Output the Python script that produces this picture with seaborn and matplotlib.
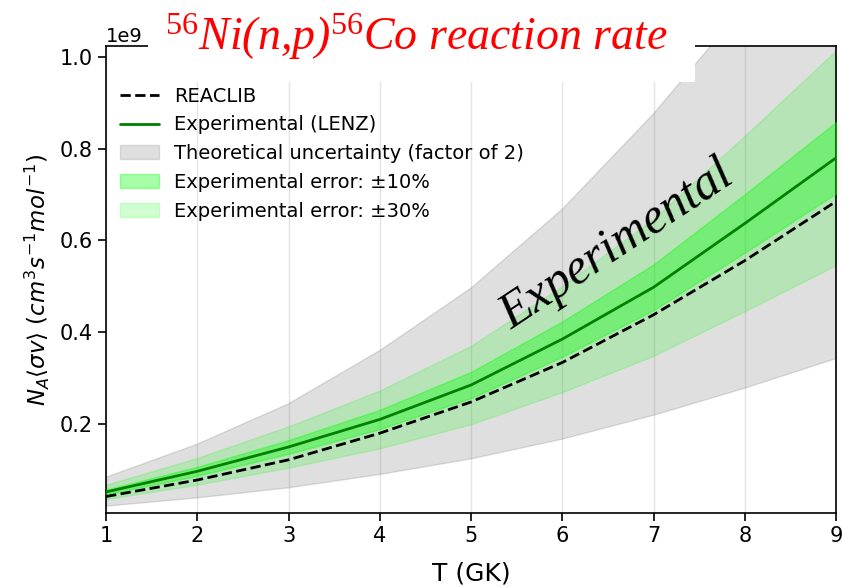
import numpy as np
import pandas as pd
import matplotlib
matplotlib.use("Agg")
import matplotlib.pyplot as plt
from matplotlib.patches import Rectangle
import seaborn as sns

T = [1, 2, 3, 4, 5, 6, 7, 8, 9]
reaclib = [0.042e9, 0.078e9, 0.122e9, 0.180e9, 0.248e9, 0.334e9, 0.438e9, 0.556e9, 0.685e9]
lenz = [0.052e9, 0.097e9, 0.150e9, 0.210e9, 0.285e9, 0.385e9, 0.498e9, 0.637e9, 0.780e9]
theory_factor = 2.0
err_small = 0.10
err_large = 0.30

sns.set_style("ticks", {"axes.edgecolor": "black", "xtick.color": "black",
                        "ytick.color": "black", "text.color": "black",
                        "axes.labelcolor": "black"})
plt.rcParams['font.family'] = ['DejaVu Sans']

df = pd.DataFrame({"T": T, "REACLIB": reaclib, "LENZ": lenz})
r = np.array(reaclib)
l = np.array(lenz)

fig = plt.figure(figsize=(8.42, 5.87), dpi=100)
ax = fig.add_axes([0.126, 0.126, 0.867, 0.796])

ax.fill_between(T, r / theory_factor, r * theory_factor, color="gray", alpha=0.25,
                label="Theoretical uncertainty (factor of 2)", zorder=1)
ax.fill_between(T, l * (1 - err_large), l * (1 + err_large), color="lime", alpha=0.18,
                label="Experimental error: \u00b130%", zorder=2)
ax.fill_between(T, l * (1 - err_small), l * (1 + err_small), color="lime", alpha=0.35,
                label="Experimental error: \u00b110%", zorder=3)
sns.lineplot(data=df, x="T", y="REACLIB", ax=ax, color="black", linestyle="--",
             linewidth=2, label="REACLIB", zorder=5)
sns.lineplot(data=df, x="T", y="LENZ", ax=ax, color="green", linewidth=2,
             label="Experimental (LENZ)", zorder=4)

ax.set_xlim(1, 9)
ax.set_ylim(0.006e9, 1.024e9)
ax.set_xticks(T)
ax.set_yticks([0.2e9, 0.4e9, 0.6e9, 0.8e9, 1.0e9])
ax.xaxis.grid(True, color="#e4e4e4", linewidth=1)
ax.set_axisbelow(True)
ax.tick_params(axis="y", labelsize=15, length=6, width=1.2)
ax.tick_params(axis="x", labelsize=15, length=6, width=1.2)
for s in ax.spines.values():
    s.set_linewidth(1.2)
    s.set_color("black")
ax.yaxis.get_offset_text().set_fontsize(14)
ax.set_xlabel("T (GK)", fontsize=18, labelpad=11)
ax.set_ylabel(r"$N_A\langle\sigma v\rangle$ $(cm^3s^{-1}mol^{-1})$", fontsize=16.5, labelpad=6)

handles, labels = ax.get_legend_handles_labels()
order = ["REACLIB", "Experimental (LENZ)", "Theoretical uncertainty (factor of 2)",
         "Experimental error: \u00b110%", "Experimental error: \u00b130%"]
hmap = dict(zip(labels, handles))
ax.legend([hmap[k] for k in order], order, loc="upper left", frameon=False,
          fontsize=14, bbox_to_anchor=(-0.005, 0.95), handlelength=2.0,
          handletextpad=0.8, labelspacing=0.5)

# white box behind the title, overlapping the top of the axes
fig.add_artist(Rectangle((148 / 842, 1 - 82 / 587), (695 - 148) / 842, 82 / 587,
                         transform=fig.transFigure, facecolor="white",
                         edgecolor="none", zorder=5))

plt.rcParams['mathtext.fontset'] = 'custom'
plt.rcParams['mathtext.rm'] = 'Liberation Serif'
plt.rcParams['mathtext.it'] = 'Liberation Serif:italic'
fig.text(0.494, 0.937, r"$^{56}$Ni(n,p)$^{56}$Co reaction rate", color="red",
         fontsize=33, family="Liberation Serif", style="italic", ha="center", va="center",
         zorder=10)

ax.text(6.6, 0.59e9, "Experimental", rotation=33.5, fontsize=36, family="Liberation Serif",
        style="italic", ha="center", va="center", color="black", zorder=6)

fig.savefig("out.png", dpi=100)
